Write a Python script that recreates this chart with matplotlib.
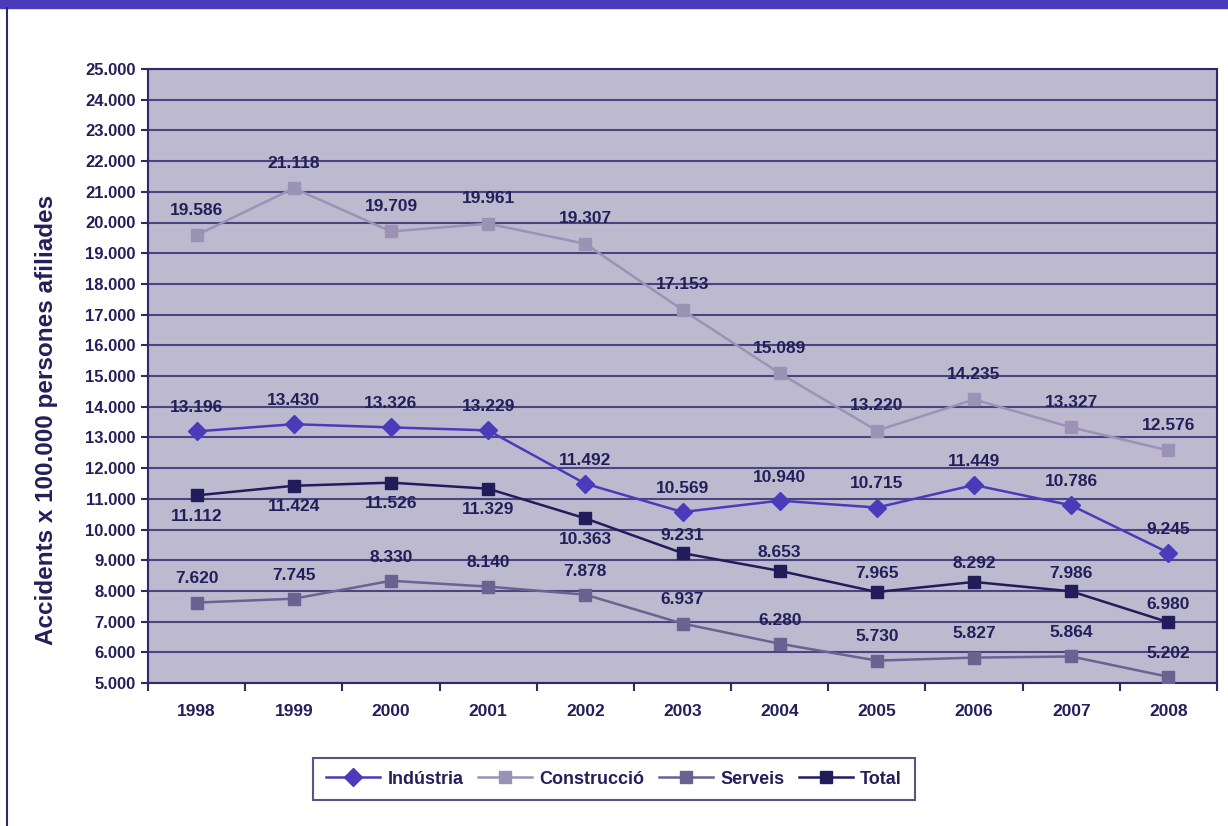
import numpy as np
import matplotlib.pyplot as plt
from matplotlib.lines import Line2D
from matplotlib.patches import Rectangle

plt.rcParams['font.family'] = ['Liberation Sans', 'DejaVu Sans']
plt.rcParams['font.weight'] = 'bold'

# Dades
anys = ['1998', '1999', '2000', '2001', '2002', '2003', '2004', '2005', '2006', '2007', '2008']
industria = [13196, 13430, 13326, 13229, 11492, 10569, 10940, 10715, 11449, 10786, 9245]
construccio = [19586, 21118, 19709, 19961, 19307, 17153, 15089, 13220, 14235, 13327, 12576]
serveis = [7620, 7745, 8330, 8140, 7878, 6937, 6280, 5730, 5827, 5864, 5202]
total = [11112, 11424, 11526, 11329, 10363, 9231, 8653, 7965, 8292, 7986, 6980]

# Colors
c_text = '#231F5A'
c_ind = '#4B3BBB'
c_con = '#9A93B5'
c_ser = '#6A6290'
c_tot = '#221C5A'

fig = plt.figure(figsize=(12.28, 8.26), dpi=100)
ax = fig.add_axes([148/1228, 1 - 683/826, (1217 - 148)/1228, (683 - 69)/826])
ax.set_facecolor('#BDBACF')

# Marc de la figura
fig.patches.append(Rectangle((0, 1 - 8/826), 1, 8/826, transform=fig.transFigure,
                             color='#4B3BBB', zorder=0))
fig.lines.append(Line2D([7/1228, 7/1228], [0, 1 - 8/826], transform=fig.transFigure,
                        color='#2E2A66', lw=1.5))

x = np.arange(len(anys))

# nom, valors, color, marcador, mida, desplaçament etiqueta (pt)
series = [
    ('Indústria', industria, c_ind, 'D', 9.5, 17),
    ('Construcció', construccio, c_con, 's', 8.5, 18),
    ('Serveis', serveis, c_ser, 's', 8.5, 17),
    ('Total', total, c_tot, 's', 8.5, 13),
]

for nom, vals, col, mk, ms, dy in series:
    ax.plot(x, vals, color=col, lw=1.8, marker=mk, markersize=ms,
            markerfacecolor=col, markeredgecolor=col, label=nom, zorder=3)

def fmt(v):
    return f'{v:,}'.replace(',', '.')

# Etiquetes de dades
for nom, vals, col, mk, ms, dy in series:
    for i, v in enumerate(vals):
        off = dy
        if nom == 'Total' and i < 5:
            off = -15
        ax.annotate(fmt(v), (x[i], v), xytext=(0, off), textcoords='offset points',
                    ha='center', va='center', fontsize=12.5, fontweight='bold',
                    color=c_text, zorder=4)

ax.set_xlim(-0.5, len(anys) - 0.5)
ax.set_ylim(5000, 25000)
ax.set_yticks(np.arange(5000, 25001, 1000))
ax.set_yticklabels([fmt(v) for v in range(5000, 25001, 1000)])
ax.set_xticks(x)
ax.set_xticklabels(anys)
ax.set_xticks(np.arange(-0.5, len(anys), 1), minor=True)
ax.tick_params(axis='x', which='major', length=0, pad=15, labelsize=12.5, labelcolor=c_text)
ax.tick_params(axis='x', which='minor', length=6, width=1.5, color='#2E2A66', direction='out')
ax.tick_params(axis='y', length=5, width=1.5, color='#2E2A66', pad=4, labelsize=12,
               labelcolor=c_text)
for lab in ax.get_xticklabels() + ax.get_yticklabels():
    lab.set_fontweight('bold')

ax.grid(axis='y', color='#4A4580', lw=1.5)
ax.set_axisbelow(True)
for s in ax.spines.values():
    s.set_color('#2E2A66')
    s.set_linewidth(1.5)

fig.text(47/1228, 1 - 420/826, 'Accidents x 100.000 persones afiliades', rotation=90,
         ha='center', va='center', fontsize=17.5, fontweight='bold', color=c_text)

leg = fig.legend(loc='center', bbox_to_anchor=(614/1228, 1 - 779/826), ncol=4,
                 frameon=True, fancybox=False, fontsize=13, handlelength=3.0,
                 columnspacing=0.8, handletextpad=0.4, borderpad=0.7)
leg.get_frame().set_edgecolor('#2E2A66')
leg.get_frame().set_linewidth(1.5)
for t in leg.get_texts():
    t.set_color(c_text)
    t.set_fontweight('bold')

fig.savefig('out.png', dpi=100)
